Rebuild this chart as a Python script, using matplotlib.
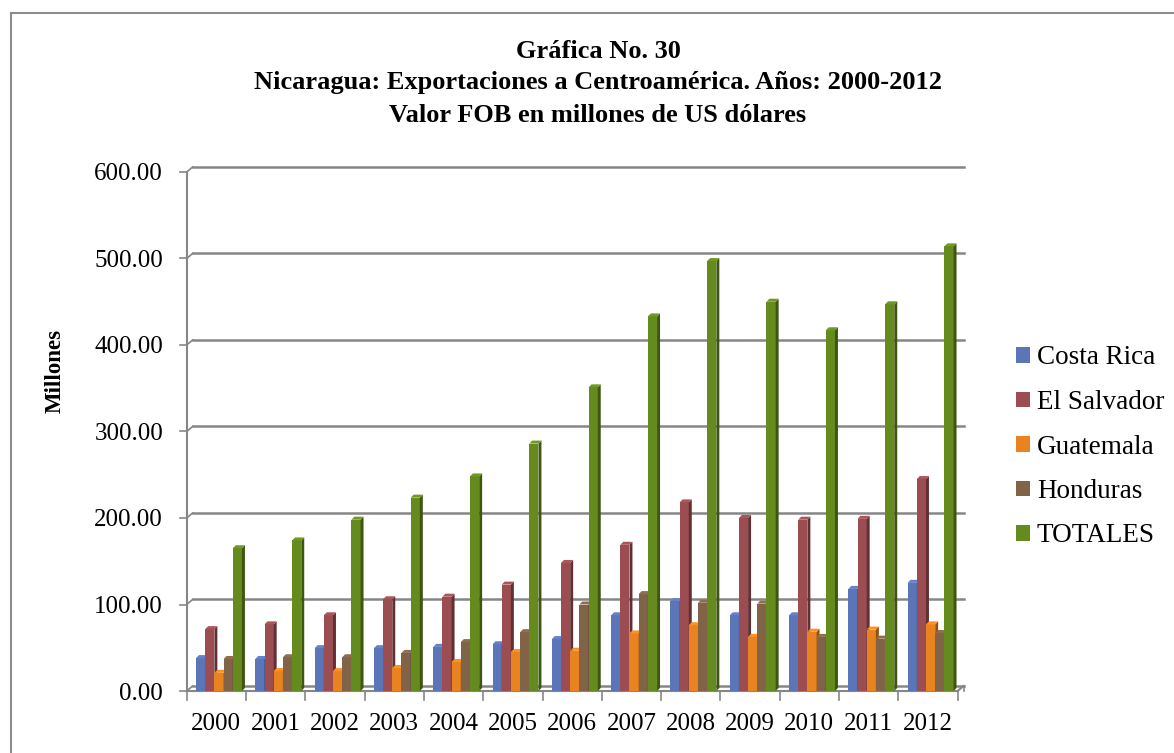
import numpy as np
import matplotlib
matplotlib.use("Agg")
import matplotlib.pyplot as plt
from matplotlib.patches import Polygon, Patch
from matplotlib.lines import Line2D
from matplotlib.colors import to_rgb

# datos (millones de US$)
years = ["2000", "2001", "2002", "2003", "2004", "2005", "2006",
         "2007", "2008", "2009", "2010", "2011", "2012"]
costa_rica = [38, 37, 49.5, 49.5, 51, 54, 60, 87.5, 104, 87.5, 87.5, 118, 125]
el_salvador = [71.5, 77, 87.5, 106, 109, 123, 148, 169, 218, 200, 198, 199, 245]
guatemala = [21, 23, 23, 26.5, 33.5, 45, 46.5, 66.5, 76, 62.5, 68.5, 71, 77]
honduras = [37, 39, 39, 44, 56.5, 68, 100, 112, 102, 101, 62.5, 60.5, 67]
totales = [165, 174, 198, 223.5, 248, 286, 351, 433, 497, 450, 417, 447, 514]

series_names = ["Costa Rica", "El Salvador", "Guatemala", "Honduras", "TOTALES"]
series_vals = [costa_rica, el_salvador, guatemala, honduras, totales]
colors = ["#5B76B8", "#9B4D51", "#E8831F", "#816448", "#658B1E"]

yticks = [0, 100, 200, 300, 400, 500, 600]

plt.rcParams["font.family"] = ["Liberation Serif", "DejaVu Serif"]

W, H = 1174, 753
fig = plt.figure(figsize=(W / 100, H / 100), dpi=100)
ax = fig.add_axes([186.7 / W, (H - 691) / H, (957.6 - 186.7) / W, (691 - 172) / H])
ax.set_xlim(-0.5, 12.5)
ax.set_ylim(0, 600)
for s in ax.spines.values():
    s.set_visible(False)

grey = "#868686"
# desplazamiento de la pared del fondo (efecto 3D)
WX, WY = 0.10, 5.8

# pared izquierda + rejilla
ax.plot([-0.5, -0.5], [0, 600], color=grey, lw=1.5, clip_on=False, zorder=1)
for v in yticks:
    ax.plot([-0.5 + WX, 12.5 + WX], [v + WY, v + WY], color=grey, lw=1.8, clip_on=False, zorder=1)
    ax.plot([-0.5, -0.5 + WX], [v, v + WY], color=grey, lw=1.2, clip_on=False, zorder=1)
    ax.plot([-0.62, -0.5], [v, v], color=grey, lw=1.2, clip_on=False, zorder=1)
# piso
ax.plot([-0.5, 12.5], [0, 0], color=grey, lw=1.5, clip_on=False, zorder=1)
ax.plot([12.5, 12.5 + WX], [0, WY], color=grey, lw=1.5, clip_on=False, zorder=1)
ax.plot([12.5 + WX, 12.5 + WX], [WY, 0], color=grey, lw=1.2, clip_on=False, zorder=1)
for i in range(14):
    ax.plot([i - 0.5, i - 0.5], [0, -10], color=grey, lw=1.2, clip_on=False, zorder=1)

# barras con cara lateral y superior
bw = 0.155
dx, dy = 0.05, 3.5
x = np.arange(len(years))
z = 3
for j, (vals, c) in enumerate(zip(series_vals, colors)):
    base = np.array(to_rgb(c))
    dark = base * 0.62
    light = np.clip(base * 1.1, 0, 1)
    xs = x - 0.5 + 0.157 + j * bw
    ax.bar(xs, vals, width=bw, align="edge", color=c, zorder=z + j * 3)
    for xi, v in zip(xs, vals):
        side = Polygon([(xi + bw, 0), (xi + bw + dx, dy), (xi + bw + dx, v + dy), (xi + bw, v)],
                       closed=True, facecolor=dark, edgecolor="none", zorder=z + j * 3 + 1)
        top = Polygon([(xi, v), (xi + bw, v), (xi + bw + dx, v + dy), (xi + dx, v + dy)],
                      closed=True, facecolor=light, edgecolor="none", zorder=z + j * 3 + 2)
        ax.add_patch(side)
        ax.add_patch(top)

# ejes
ax.set_yticks(yticks)
ax.set_yticklabels([f"{v:.2f}" for v in yticks], fontsize=18)
ax.set_xticks(x)
ax.set_xticklabels(years, fontsize=18)
ax.tick_params(axis="y", length=0, pad=17)
ax.tick_params(axis="x", length=0, pad=16)
fig.text(55 / W, 1 - 371 / H, "Millones", rotation=90, ha="center", va="center",
         fontsize=16.5, fontweight="bold")

# título
fig.text(598 / W, 1 - 58 / H, "Gráfica No. 30", ha="center", va="baseline",
         fontsize=19, fontweight="bold")
fig.text(598 / W, 1 - 88.5 / H, "Nicaragua: Exportaciones a Centroamérica. Años: 2000-2012",
         ha="center", va="baseline", fontsize=19, fontweight="bold")
fig.text(598 / W, 1 - 121.5 / H, "Valor FOB en millones de US dólares", ha="center",
         va="baseline", fontsize=19, fontweight="bold")

# leyenda
handles = [Patch(facecolor=c, edgecolor="none") for c in colors]
fig.legend(handles, series_names, loc="center left", bbox_to_anchor=(1016 / W, 1 - 447 / H),
           frameon=False, fontsize=19.5, handlelength=0.52, handleheight=0.52,
           handletextpad=0.25, labelspacing=0.72, borderpad=0, borderaxespad=0)

# marco exterior
fig.add_artist(Line2D([11 / W, 11 / W], [0, 1 - 13 / H], color="#8C8C8C", lw=1.5))
fig.add_artist(Line2D([11 / W, 1], [1 - 13 / H, 1 - 13 / H], color="#8C8C8C", lw=1.5))

fig.savefig("out.png", dpi=100)
